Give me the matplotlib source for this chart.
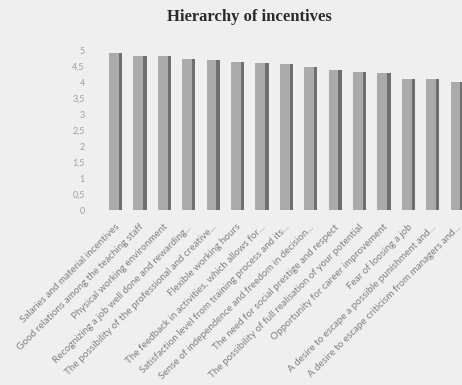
import matplotlib.pyplot as plt
import numpy as np

# data
labels = ['Salaries and material incentives',
          'Good relations among the teaching staff',
          'Physical working environment',
          'Recognizing a job well done and rewarding...',
          'The possibility of the professional and creative...',
          'Flexible working hours',
          'The feedback in activities, which allows for...',
          'Satisfaction level from training process and its...',
          'Sense of independence and freedom in decision...',
          'The need for social prestige and respect',
          'The possibility of full realisation of your potential',
          'Opportunity for career improvement',
          'Fear of loosing a job',
          'A desire to escape a possible punishment and...',
          'A desire to escape criticism from managers and...']
scores = [4.90, 4.82, 4.81, 4.72, 4.69, 4.63, 4.59, 4.55, 4.48, 4.38,
          4.30, 4.27, 4.09, 4.08, 4.00]
yticks = [0, 0.5, 1, 1.5, 2, 2.5, 3, 3.5, 4, 4.5, 5]
ytick_labels = ['0', '0,5', '1', '1,5', '2', '2,5', '3', '3,5', '4', '4,5', '5']

bg = '#efefef'
fig = plt.figure(figsize=(4.62, 3.85), dpi=100, facecolor=bg)
ax = fig.add_axes([100/462, 175/385, 372/462, 160/385], facecolor=bg)

x = np.arange(len(scores))
# front face and darker side face, a flat imitation of the 3-D bars
ax.bar(x - 0.07, scores, width=0.42, color='#ababab', edgecolor='none', zorder=2)
ax.bar(x + 0.19, scores, width=0.14, color='#6f6f6f', edgecolor='none', zorder=2)

ax.set_xlim(-0.65, 14.6)
ax.set_ylim(0, 5)
ax.set_yticks(yticks)
ax.set_yticklabels(ytick_labels, color='#a0a0a0', fontsize=6.5, family='Lato')
ax.set_xticks(x - 0.05)
ax.set_xticklabels(labels, rotation=45, ha='right', rotation_mode='anchor',
                   color='#808080', fontsize=7.1, family='Lato')
ax.tick_params(axis='both', length=0)
ax.tick_params(axis='y', pad=11)
ax.tick_params(axis='x', pad=9)
for s in ax.spines.values():
    s.set_visible(False)

fig.text(0.54, 0.957, 'Hierarchy of incentives', ha='center', va='center',
         fontsize=12, fontweight='bold', family='Liberation Serif', color='#2a2a2a')

plt.savefig('out.png', dpi=100, facecolor=bg)
